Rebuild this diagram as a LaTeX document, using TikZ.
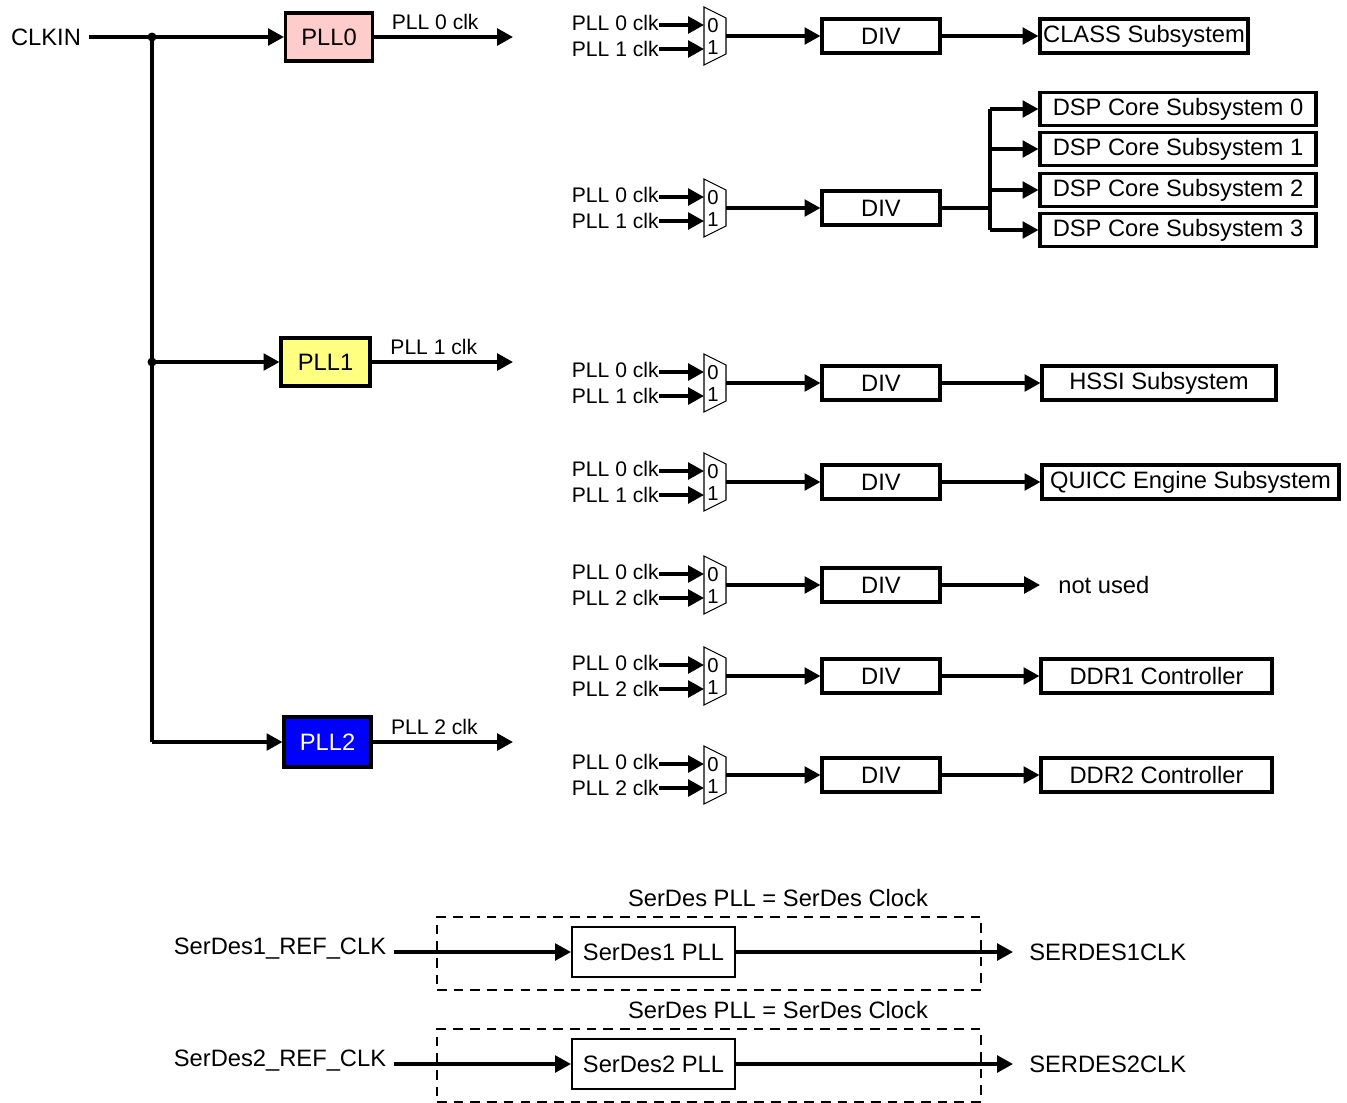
\documentclass[tikz,border=0pt]{standalone}
\usepackage{fontspec}
\setmainfont{Liberation Sans}
\usetikzlibrary{arrows.meta}
\definecolor{rosa}{HTML}{FFCCCC}
\definecolor{gelb}{HTML}{FFFF80}
\definecolor{blau}{HTML}{0000FF}
\tikzset{
 wire/.style={line width=1.8pt,-{Triangle[length=9pt,width=9.5pt]}},
 bus/.style={line width=1.8pt},
 txt/.style={font=\fontsize{13.5}{16}\selectfont,inner sep=0pt},
 small/.style={font=\fontsize{12}{14}\selectfont,inner sep=0pt},
 digit/.style={font=\fontsize{11.5}{13}\selectfont,inner sep=0pt},
 box/.style={draw,line width=1.8pt,txt,minimum height=0.68cm},
 pllbox/.style={box,minimum width=1.74cm,minimum height=0.96cm},
 divbox/.style={box,minimum width=2.36cm},
 subbox/.style={box,inner xsep=0pt},
 sdbox/.style={box,line width=1.2pt,minimum width=3.26cm,minimum height=1cm},
 muxline/.style={line width=0.6pt,fill=white},
 dashbox/.style={draw,line width=1.1pt,dash pattern=on 5.5pt off 4pt,minimum width=10.88cm,minimum height=1.46cm},
}

\begin{document}
\begin{tikzpicture}[x=0.02cm,y=-0.02cm]
\useasboundingbox (0,0) rectangle (1347,1103);

% PLLs
\node[txt,inner sep=4.5pt] (clkin) at (46,37) {CLKIN};
\node[pllbox,fill=rosa] (pll0) at (329,37) {PLL0};
\node[pllbox,fill=gelb,minimum width=1.78cm] (pll1) at (325.5,362) {PLL1};
\node[pllbox,fill=blau,text=white,minimum height=1cm] (pll2) at (327.5,742) {PLL2};
\coordinate (j0) at (152,37);
\coordinate (j1) at (152,362);
\coordinate (j2) at (152,742);
\draw[wire] (clkin) -- (pll0);
\draw[bus] (j0) -- (j2);
\draw[wire] (j1) -- (pll1);
\draw[wire] (j2) -- (pll2);
\fill (j0) circle (0.09cm) (j1) circle (0.09cm);
\coordinate (o0) at (513,37);
\coordinate (o1) at (513,362);
\coordinate (o2) at (513,742);
\draw[wire] (pll0) -- (o0) node[small,pos=0.44,above=0.12cm] {PLL 0 clk};
\draw[wire] (pll1) -- (o1) node[small,pos=0.44,above=0.12cm] {PLL 1 clk};
\draw[wire] (pll2) -- (o2) node[small,pos=0.44,above=0.12cm] {PLL 2 clk};

% mux + divider rows
\foreach \r/\y/\s in {1/36/1,2/208/1,3/383/1,4/482/1,5/585/2,6/676/2,7/775/2} {
 \draw[muxline] (704,\y-29) -- (726,\y-18) -- (726,\y+18) -- (704,\y+29) -- cycle;
 \node[digit] at (713,\y-10) {0};
 \node[digit] at (713,\y+12) {1};
 \coordinate (mux-\r-a) at (704,\y-11);
 \coordinate (mux-\r-b) at (704,\y+13);
 \coordinate (mux-\r-o) at (726,\y);
 \node[small,anchor=east] (lab-\r-a) at (659,\y-13) {PLL 0 clk};
 \node[small,anchor=east] (lab-\r-b) at (659,\y+13) {PLL \s{} clk};
 \draw[wire] (lab-\r-a.east |- mux-\r-a) -- (mux-\r-a);
 \draw[wire] (lab-\r-b.east |- mux-\r-b) -- (mux-\r-b);
 \node[divbox] (div-\r) at (881,\y) {DIV};
 \draw[wire] (mux-\r-o) -- (div-\r);
}

% targets
\node[subbox,minimum width=4.16cm] (class) at (1144,36) {CLASS Subsystem};
\draw[wire] (div-1) -- (class);
\foreach \i/\y in {0/109,1/149,2/190,3/230}
 \node[subbox,minimum width=5.52cm,minimum height=0.66cm] (dsp\i) at (1178,\y) {DSP Core Subsystem \i};
\coordinate (fan) at (990,208);
\draw[bus] (div-2) -- (fan);
\draw[bus] (fan |- dsp0) -- (fan |- dsp3);
\foreach \i in {0,...,3}
 \draw[wire] (fan |- dsp\i) -- (dsp\i);
\node[subbox,minimum width=4.68cm] (hssi) at (1159,383) {HSSI Subsystem};
\draw[wire] (div-3) -- (hssi);
\node[subbox,minimum width=5.94cm] (quicc) at (1190.5,482) {QUICC Engine Subsystem};
\draw[wire] (div-4) -- (quicc);
\node[txt,anchor=west,inner xsep=0.36cm] (nu) at (1040,585) {not used};
\draw[wire] (div-5) -- (nu);
\node[subbox,minimum width=4.62cm] (ddr1) at (1156.5,676) {DDR1 Controller};
\draw[wire] (div-6) -- (ddr1);
\node[subbox,minimum width=4.62cm] (ddr2) at (1156.5,775) {DDR2 Controller};
\draw[wire] (div-7) -- (ddr2);

% SerDes
\foreach \k/\y in {1/952,2/1064} {
 \node[dashbox] (grp\k) at (709,\y+1.5) {};
 \node[txt] (ttl\k) at (778,\y-54) {SerDes PLL = SerDes Clock};
 \node[txt,inner sep=4.5pt] (ref\k) at (280,\y-3) {SerDes\k\_REF\_CLK};
 \node[sdbox] (sd\k) at (653.5,\y) {SerDes\k{} PLL};
 \node[txt,anchor=west,inner xsep=0.32cm] (clk\k) at (1013,\y) {SERDES\k CLK};
 \draw[wire] (ref\k.east |- sd\k) -- (sd\k);
 \draw[wire] (sd\k) -- (clk\k);
}

\end{tikzpicture}
\end{document}
